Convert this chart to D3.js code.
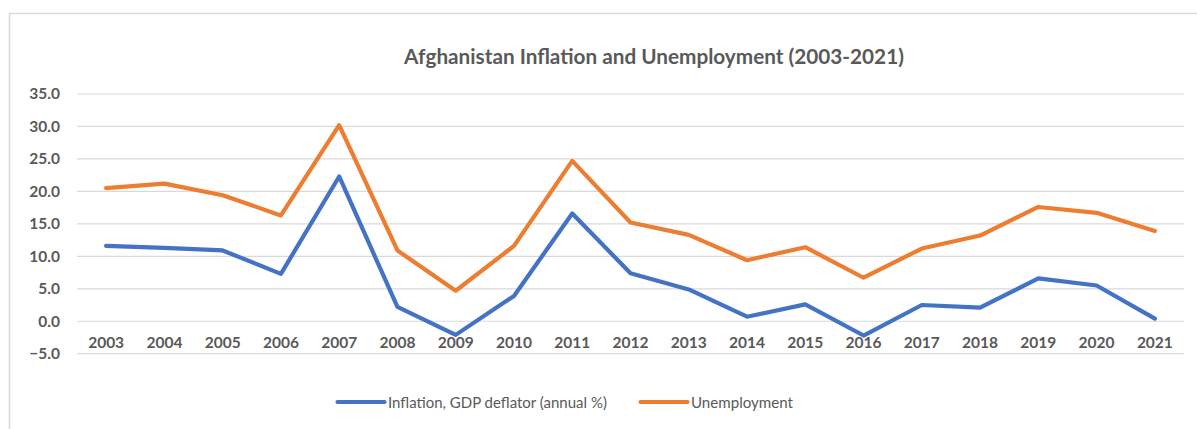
<!DOCTYPE html>
<html>
<head>
<meta charset="utf-8">
<script src="https://cdn.jsdelivr.net/npm/d3@7"></script>
<style>
  html, body { margin: 0; padding: 0; background: #fff; }
  svg { display: block; }
</style>
</head>
<body>
<svg id="chart" width="1197" height="429"></svg>
<script>
const years = ["2003","2004","2005","2006","2007","2008","2009","2010","2011","2012","2013","2014","2015","2016","2017","2018","2019","2020","2021"];
const inflation = [11.6, 11.3, 10.9, 7.3, 22.3, 2.2, -2.1, 3.9, 16.6, 7.4, 4.9, 0.7, 2.6, -2.2, 2.5, 2.1, 6.6, 5.5, 0.4];
const unemployment = [20.5, 21.2, 19.4, 16.3, 30.2, 10.9, 4.7, 11.6, 24.7, 15.2, 13.3, 9.4, 11.4, 6.7, 11.2, 13.2, 17.6, 16.7, 13.9];
const yTicks = [-5, 0, 5, 10, 15, 20, 25, 30, 35];
const seriesNames = ["Inflation, GDP deflator (annual %)", "Unemployment"];
const seriesColors = ["#4472C4", "#ED7D31"];
const title = "Afghanistan Inflation and Unemployment (2003-2021)";

const svg = d3.select("#chart");
const textColor = "#595959";
const fontFam = "Lato, 'Open Sans', sans-serif";

function fitWidth(sel, target) {
  const w = sel.node().getComputedTextLength();
  const fs = parseFloat(sel.attr("font-size"));
  if (w > 0) sel.attr("font-size", fs * target / w);
}

// outer border
svg.append("rect")
  .attr("x", 9.5).attr("y", 13.5)
  .attr("width", 1300).attr("height", 600)
  .attr("fill", "none").attr("stroke", "#D9D9D9").attr("stroke-width", 1.5);

const left = 77, right = 1184;
const x = d3.scaleBand().domain(years).range([left, right]);
const y = d3.scaleLinear().domain([-5, 35]).range([353.7, 94]);

// gridlines
svg.append("g").selectAll("line").data(yTicks).join("line")
  .attr("x1", left).attr("x2", right)
  .attr("y1", d => y(d)).attr("y2", d => y(d))
  .attr("stroke", "#D9D9D9").attr("stroke-width", 1.2);

// y axis labels
const yAxis = d3.axisLeft(y).tickValues(yTicks).tickSize(0).tickPadding(0)
  .tickFormat(d => d3.format(".1f")(d));
const gy = svg.append("g").attr("transform", "translate(60,0)").call(yAxis);
gy.select(".domain").remove();
gy.selectAll("text")
  .attr("fill", textColor).attr("font-family", fontFam)
  .attr("font-weight", "bold").attr("font-size", 15.5);

// x axis labels
const xAxis = d3.axisBottom(x).tickSize(0).tickPadding(0);
const gx = svg.append("g").attr("transform", "translate(0,337)").call(xAxis);
gx.select(".domain").remove();
gx.selectAll("text")
  .attr("fill", textColor).attr("font-family", fontFam)
  .attr("font-weight", "bold").attr("font-size", 15.5);

// lines
const line = d3.line()
  .x((d, i) => x(years[i]) + x.bandwidth() / 2)
  .y(d => y(d));
[inflation, unemployment].forEach((data, k) => {
  svg.append("path")
    .datum(data)
    .attr("d", line)
    .attr("fill", "none")
    .attr("stroke", seriesColors[k])
    .attr("stroke-width", 4.2)
    .attr("stroke-linejoin", "round")
    .attr("stroke-linecap", "round");
});

// title
const t = svg.append("text")
  .attr("x", 654).attr("y", 63.5)
  .attr("text-anchor", "middle")
  .attr("fill", textColor).attr("font-family", fontFam)
  .attr("font-weight", "bold").attr("font-size", 17)
  .text(title);
fitWidth(t, 500);

// legend
const legendX = [337.5, 640.5];
const legendW = [219, 102];
seriesNames.forEach((name, k) => {
  const g = svg.append("g");
  g.append("line")
    .attr("x1", legendX[k]).attr("x2", legendX[k] + 47)
    .attr("y1", 402).attr("y2", 402)
    .attr("stroke", seriesColors[k]).attr("stroke-width", 4.2)
    .attr("stroke-linecap", "round");
  const lt = g.append("text")
    .attr("x", legendX[k] + 50.5).attr("y", 408)
    .attr("fill", textColor).attr("font-family", fontFam)
    .attr("font-size", 15.5)
    .text(name);
  fitWidth(lt, legendW[k]);
});
</script>
</body>
</html>
